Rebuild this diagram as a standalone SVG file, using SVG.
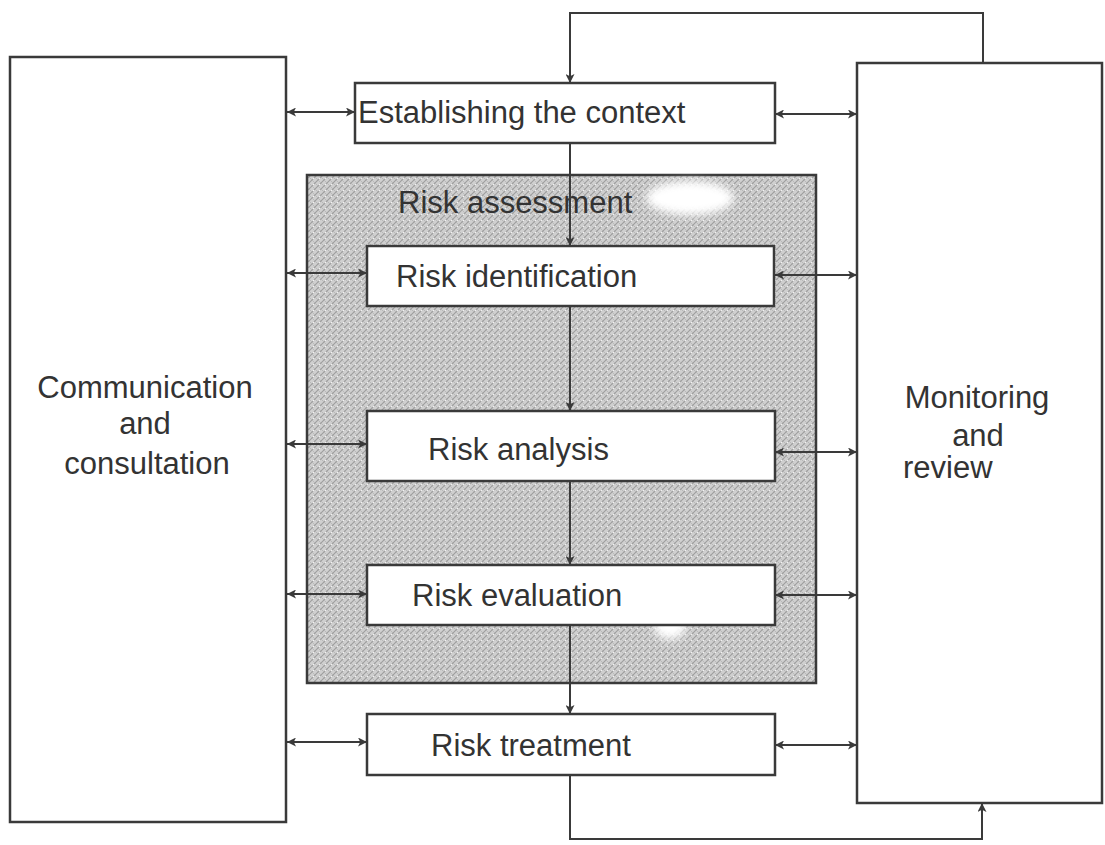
<svg xmlns="http://www.w3.org/2000/svg" width="1105" height="845" viewBox="0 0 1105 845">
  <defs>
    <pattern id="stipple" width="6" height="6" patternUnits="userSpaceOnUse">
      <rect width="6" height="6" fill="#d0d0d0"/>
      <path d="M0 6 L6 0 M-1 1 L1 -1 M5 7 L7 5" stroke="#9e9e9e" stroke-width="1.1"/>
      <path d="M0 0 L6 6" stroke="#b6b6b6" stroke-width="0.9"/>
      <circle cx="1.5" cy="4.5" r="0.8" fill="#f2f2f2"/>
    </pattern>
    <filter id="soft" x="-30%" y="-30%" width="160%" height="160%">
      <feGaussianBlur stdDeviation="4"/>
    </filter>
    <marker id="ah" viewBox="0 0 10 10" refX="10" refY="5" markerWidth="11" markerHeight="9" markerUnits="userSpaceOnUse" orient="auto-start-reverse">
      <path d="M0 0 L10 5 L0 10 L2.5 5 Z" fill="#3a3a3a"/>
    </marker>
  </defs>
  <style>
    .box { fill: #ffffff; stroke: #3a3a3a; stroke-width: 2.5; }
    .line { fill: none; stroke: #3a3a3a; stroke-width: 2; }
    .txt { font-family: "Liberation Sans", Arial, sans-serif; font-size: 31px; fill: #333333; }
  </style>
  <rect width="1105" height="845" fill="#ffffff"/>

  <g id="communication">
    <rect class="box" x="10" y="57" width="276" height="765"/>
    <text class="txt" x="145" y="398" text-anchor="middle">Communication</text>
    <text class="txt" x="145" y="434" text-anchor="middle">and</text>
    <text class="txt" x="147" y="474" text-anchor="middle">consultation</text>
  </g>

  <g id="monitoring">
    <rect class="box" x="857" y="63" width="245" height="740"/>
    <text class="txt" x="977" y="408" text-anchor="middle">Monitoring</text>
    <text class="txt" x="978" y="446" text-anchor="middle">and</text>
    <text class="txt" x="903" y="478">review</text>
  </g>

  <g id="risk-assessment">
    <rect x="307" y="175" width="509" height="508" fill="url(#stipple)" stroke="#3a3a3a" stroke-width="2.5"/>
    <ellipse cx="690" cy="198" rx="44" ry="17" fill="#ffffff" filter="url(#soft)"/>
    <ellipse cx="670" cy="626" rx="16" ry="13" fill="#ffffff" filter="url(#soft)"/>
    <text class="txt" x="398" y="213">Risk assessment</text>
  </g>

  <g id="connectors">
    <polyline class="line" points="983,63 983,13 570,13 570,83" marker-end="url(#ah)"/>
    <line class="line" x1="570" y1="143" x2="570" y2="246" marker-end="url(#ah)"/>
    <line class="line" x1="570" y1="306" x2="570" y2="411" marker-end="url(#ah)"/>
    <line class="line" x1="570" y1="481" x2="570" y2="565" marker-end="url(#ah)"/>
    <line class="line" x1="570" y1="625" x2="570" y2="714" marker-end="url(#ah)"/>
    <polyline class="line" points="570,775 570,839 982,839 982,803" marker-end="url(#ah)"/>

    <line class="line" x1="287" y1="112" x2="355" y2="112" marker-start="url(#ah)" marker-end="url(#ah)"/>
    <line class="line" x1="287" y1="273" x2="367" y2="273" marker-start="url(#ah)" marker-end="url(#ah)"/>
    <line class="line" x1="287" y1="444" x2="367" y2="444" marker-start="url(#ah)" marker-end="url(#ah)"/>
    <line class="line" x1="287" y1="594" x2="367" y2="594" marker-start="url(#ah)" marker-end="url(#ah)"/>
    <line class="line" x1="287" y1="742" x2="367" y2="742" marker-start="url(#ah)" marker-end="url(#ah)"/>

    <line class="line" x1="775" y1="114" x2="857" y2="114" marker-start="url(#ah)" marker-end="url(#ah)"/>
    <line class="line" x1="775" y1="275" x2="857" y2="275" marker-start="url(#ah)" marker-end="url(#ah)"/>
    <line class="line" x1="775" y1="452" x2="857" y2="452" marker-start="url(#ah)" marker-end="url(#ah)"/>
    <line class="line" x1="775" y1="595" x2="857" y2="595" marker-start="url(#ah)" marker-end="url(#ah)"/>
    <line class="line" x1="775" y1="745" x2="857" y2="745" marker-start="url(#ah)" marker-end="url(#ah)"/>
  </g>

  <g id="establishing-context">
    <rect class="box" x="355" y="83" width="420" height="60"/>
    <text class="txt" x="358" y="123">Establishing the context</text>
  </g>

  <g id="risk-identification">
    <rect class="box" x="367" y="246" width="407" height="60"/>
    <text class="txt" x="396" y="287">Risk identification</text>
  </g>

  <g id="risk-analysis">
    <rect class="box" x="367" y="411" width="408" height="70"/>
    <text class="txt" x="428" y="460">Risk analysis</text>
  </g>

  <g id="risk-evaluation">
    <rect class="box" x="367" y="565" width="408" height="60"/>
    <text class="txt" x="412" y="606">Risk evaluation</text>
  </g>

  <g id="risk-treatment">
    <rect class="box" x="367" y="714" width="408" height="61"/>
    <text class="txt" x="431" y="756">Risk treatment</text>
  </g>
</svg>
